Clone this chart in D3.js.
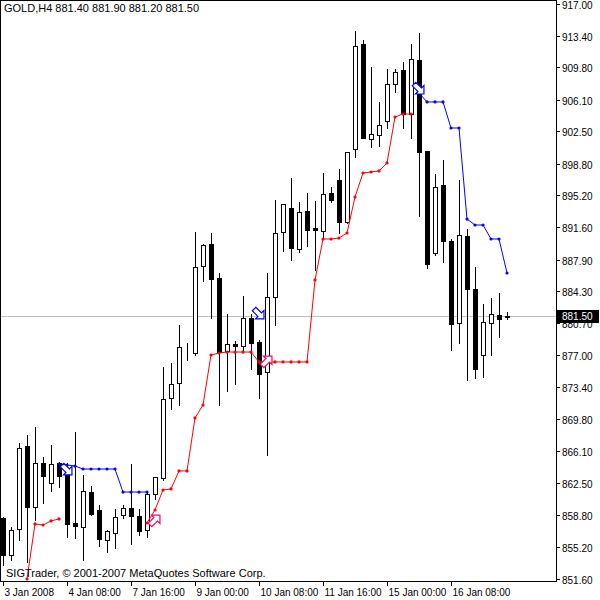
<!DOCTYPE html>
<html><head><meta charset="utf-8">
<script src="https://cdn.jsdelivr.net/npm/d3@7"></script>
<style>body{margin:0;background:#fff}svg{display:block}text{font-family:"Liberation Sans",Arial,sans-serif}</style>
</head><body><svg id="c" width="600" height="600"></svg>
<script>
const opens  = [858.51,854.30,857.26,866.70,859.76,864.76,862.49,864.76,863.40,857.94,857.48,861.46,859.42,856.00,856.80,858.85,859.65,858.73,857.14,861.24,863.06,872.16,873.87,877.85,877.28,887.18,889.68,885.81,877.51,878.30,878.08,881.26,878.53,875.12,883.65,891.05,893.78,889.11,893.44,891.50,891.16,895.48,896.96,892.18,900.49,912.43,901.63,902.08,903.67,907.88,909.48,904.47,910.61,900.26,888.66,896.39,890.02,880.69,890.59,884.57,877.05,880.69,881.60,881.40];
const highs  = [858.62,857.48,867.04,867.95,868.86,865.45,866.81,864.88,864.76,868.29,863.40,862.15,859.99,857.14,859.53,859.99,864.65,859.53,861.46,863.17,875.69,876.14,880.46,878.42,891.05,889.68,890.93,886.38,881.72,878.64,883.76,881.72,878.76,886.38,894.69,894.23,897.19,894.46,895.48,894.57,897.76,896.17,898.21,900.15,913.91,912.89,909.82,905.84,909.59,909.59,910.39,912.43,913.69,900.26,897.64,899.24,890.25,896.96,891.39,887.06,882.85,883.54,884.11,881.90];
const lows   = [853.16,853.73,856.00,853.50,858.28,860.21,861.58,862.03,856.35,856.23,853.73,858.85,855.32,854.64,855.09,858.51,855.55,856.57,856.35,860.67,862.83,870.91,871.36,876.48,877.05,885.47,881.26,871.36,872.96,873.75,877.62,875.46,872.16,865.68,880.46,888.88,887.86,888.77,889.45,886.72,890.36,894.46,890.93,892.07,899.58,901.74,900.72,900.83,902.88,906.97,902.88,901.74,892.87,886.95,888.43,887.63,877.62,878.42,874.21,874.44,874.55,877.05,879.10,881.20];
const closes = [854.30,857.14,866.47,859.76,864.76,863.29,864.65,863.29,857.83,857.60,861.58,858.96,856.12,857.03,858.62,859.65,858.73,857.03,861.24,863.17,872.05,873.75,877.96,877.90,887.06,889.57,885.70,877.39,878.30,878.08,881.26,878.42,874.89,883.65,890.93,894.23,889.22,893.32,891.28,891.28,895.37,894.69,892.18,900.15,912.21,901.74,902.20,903.22,907.88,909.25,904.47,910.73,900.15,887.40,896.17,890.02,880.58,890.70,884.57,875.46,880.81,881.72,881.15,881.50];
const N=null;
const redLine  = [N,N,N,851.57,857.83,857.71,858.17,858.40,N,N,N,N,N,N,N,N,N,N,857.94,859.42,861.69,861.81,863.86,863.86,869.89,871.36,877.05,877.28,877.39,877.39,877.39,877.39,876.26,876.26,876.26,876.26,876.26,876.26,876.26,885.59,890.25,890.25,890.36,890.93,895.03,897.76,897.87,897.99,898.90,904.13,904.47,904.47,N,N,N,N,N,N,N,N,N,N,N,N];
const blueLine = [N,N,N,N,N,N,N,864.65,864.54,864.42,864.08,864.08,864.08,864.08,864.08,861.46,861.46,861.46,861.46,N,N,N,N,N,N,N,N,N,N,N,N,N,N,N,N,N,N,N,N,N,N,N,N,N,N,N,N,N,N,N,N,N,906.86,905.84,905.84,905.84,902.88,902.88,892.52,891.84,891.84,890.25,890.25,886.38];
const sellSignals = [[8,863.97],[32,881.72],[52,907.31]];
const buySignals  = [[19,858.28],[33,876.37]];
const yTicks = [917.00,913.40,909.80,906.10,902.50,898.80,895.20,891.60,887.90,884.30,880.70,877.00,873.40,869.80,866.10,862.50,858.80,855.20,851.60];
const xTickIdx = [0,8,16,24,32,40,48,56];
const xTickLabels = ["3 Jan 2008","4 Jan 08:00","7 Jan 16:00","9 Jan 00:00","10 Jan 08:00","11 Jan 16:00","15 Jan 00:00","16 Jan 08:00"];
const lastPrice = 881.50;

const svg=d3.select("#c");
const W=556,H=581;
const x=d3.scaleLinear().domain([0,63]).range([3,507]);
const y=d3.scaleLinear().domain([851.34,917.44]).range([H,0]);
const g=svg.append("g").attr("shape-rendering","crispEdges");
const px=v=>Math.round(v)+0.5;

g.append("rect").attr("x",0.5).attr("y",0.5).attr("width",W).attr("height",H).attr("fill","none").attr("stroke","#000");
g.append("line").attr("x1",1).attr("x2",W).attr("y1",px(y(lastPrice))).attr("y2",px(y(lastPrice))).attr("stroke","#c0c0c0");

yTicks.forEach(t=>{
  const yy=px(y(t));
  g.append("line").attr("x1",W).attr("x2",W+4).attr("y1",yy).attr("y2",yy).attr("stroke","#000");
  svg.append("text").attr("x",W+6).attr("y",yy+4).attr("font-size",10).attr("fill","#000").text(t.toFixed(2));
});
xTickIdx.forEach((i,k)=>{
  const xx=px(x(i));
  g.append("line").attr("x1",xx).attr("x2",xx).attr("y1",H).attr("y2",H+5).attr("stroke","#000");
  svg.append("text").attr("x",xx+1).attr("y",H+15).attr("font-size",10).attr("fill","#000").text(xTickLabels[k]);
});

d3.range(opens.length).forEach(i=>{
  const cx=px(x(i));
  g.append("line").attr("x1",cx).attr("x2",cx).attr("y1",Math.round(y(highs[i]))).attr("y2",Math.round(y(lows[i]))+1).attr("stroke","#000");
  const top=Math.round(y(Math.max(opens[i],closes[i]))), bot=Math.round(y(Math.min(opens[i],closes[i])));
  const bull=closes[i]>=opens[i];
  g.append("rect").attr("x",cx-2).attr("y",top+0.5).attr("width",4).attr("height",Math.max(0,bot-top))
   .attr("fill",bull?"#fff":"#000").attr("stroke","#000");
});

function drawLine(arr,col){
  const line=d3.line().defined(d=>d!=null).x((d,i)=>x(i)).y(d=>y(d));
  svg.append("path").attr("d",line(arr)).attr("fill","none").attr("stroke",col).attr("stroke-width",1);
  svg.append("g").selectAll("circle").data(arr.map((v,i)=>[i,v]).filter(d=>d[1]!=null)).join("circle")
    .attr("cx",d=>x(d[0])).attr("cy",d=>y(d[1])).attr("r",1.6).attr("fill",col);
}
drawLine(redLine,"#ff0000");
drawLine(blueLine,"#0000ff");

const arrowPts="-7,-2.5 1,-2.5 1,-6 7,0 1,6 1,2.5 -7,2.5";
sellSignals.forEach(([i,p])=>{
  svg.append("polygon").attr("points",arrowPts).attr("fill","#fff").attr("stroke","#0000ff").attr("stroke-width",1.2)
   .attr("transform",`translate(${x(i)},${y(p)}) rotate(45)`);
});
buySignals.forEach(([i,p])=>{
  svg.append("polygon").attr("points",arrowPts).attr("fill","#fff").attr("stroke","#ff0060").attr("stroke-width",1.2)
   .attr("transform",`translate(${x(i)},${y(p)}) rotate(-45)`);
});

const ly=Math.round(y(lastPrice));
svg.append("rect").attr("x",W+1).attr("y",ly-6).attr("width",42).attr("height",13).attr("fill","#000");
svg.append("text").attr("x",W+6).attr("y",ly+4).attr("font-size",10).attr("fill","#fff").text(lastPrice.toFixed(2));

svg.append("text").attr("x",4).attr("y",12).attr("font-size",11).attr("fill","#000").text("GOLD,H4  881.40 881.90 881.20 881.50");
svg.append("text").attr("x",6).attr("y",577).attr("font-size",11).attr("fill","#000").text("SIGTrader, © 2001-2007 MetaQuotes Software Corp.");
</script></body></html>
